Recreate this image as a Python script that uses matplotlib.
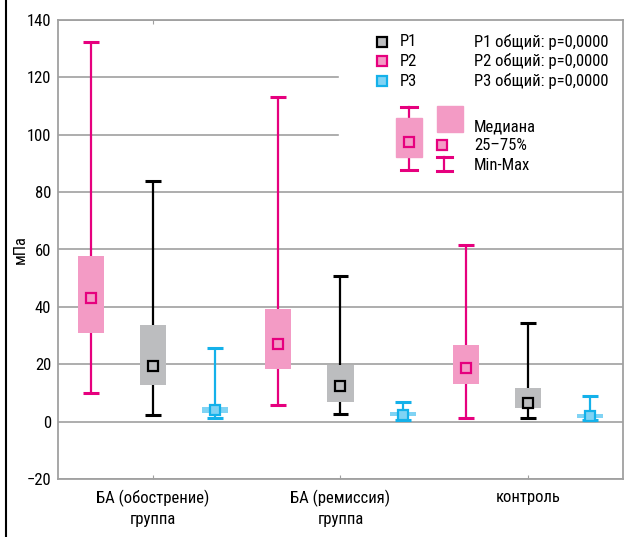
import matplotlib
matplotlib.use("Agg")
import matplotlib.pyplot as plt
from matplotlib.patches import Rectangle
from matplotlib.lines import Line2D

plt.rcParams['font.family'] = ['Roboto Condensed', 'DejaVu Sans']

groups = ["БА (обострение)\nгруппа", "БА (ремиссия)\nгруппа", "контроль"]
series = ["P2", "P1", "P3"]

# per series: values for the three groups
p2_min = [10.0, 5.9, 1.4]
p2_q1 = [31.0, 18.2, 13.0]
p2_med = [43.1, 27.0, 18.6]
p2_q3 = [57.7, 39.3, 26.8]
p2_max = [132.5, 113.0, 61.6]

p1_min = [2.4, 2.8, 1.3]
p1_q1 = [12.6, 7.0, 4.6]
p1_med = [19.5, 12.5, 6.5]
p1_q3 = [33.7, 19.8, 11.8]
p1_max = [83.8, 50.8, 34.5]

p3_min = [1.3, 0.7, 0.7]
p3_q1 = [2.9, 1.8, 1.1]
p3_med = [4.2, 2.4, 2.1]
p3_q3 = [5.2, 3.5, 2.8]
p3_max = [25.5, 7.0, 9.0]

stats = {
    "P2": (p2_min, p2_q1, p2_med, p2_q3, p2_max),
    "P1": (p1_min, p1_q1, p1_med, p1_q3, p1_max),
    "P3": (p3_min, p3_q1, p3_med, p3_q3, p3_max),
}
# box color, line color, marker face
styles = {
    "P2": ("#f39bc5", "#e6007e", "#f39bc5"),
    "P1": ("#bcbdbf", "#000000", "#bcbdbf"),
    "P3": ("#80d3f4", "#14b1ea", "#80d3f4"),
}
offsets = {"P2": -0.333, "P1": 0.0, "P3": 0.333}

W, H = 632, 537
fig = plt.figure(figsize=(W / 100, H / 100), dpi=100)
L, R, T, B = 58, 623, 20, 479
ax = fig.add_axes([L / W, 1 - B / H, (R - L) / W, (B - T) / H])

bw = 0.139
cw = 0.085
for s in series:
    mn, q1, md, q3, mx = stats[s]
    box_c, line_c, face_c = styles[s]
    xs = [i + offsets[s] for i in range(len(groups))]
    ax.vlines(xs, mn, mx, color=line_c, lw=1.6, zorder=2)
    ax.hlines(mn, [x - cw / 2 for x in xs], [x + cw / 2 for x in xs], color=line_c, lw=2.2, zorder=2)
    ax.hlines(mx, [x - cw / 2 for x in xs], [x + cw / 2 for x in xs], color=line_c, lw=2.2, zorder=2)
    ax.bar(xs, [b - a for a, b in zip(q1, q3)], bottom=q1, width=bw, color=box_c, zorder=3)
    ax.plot(xs, md, ls="none", marker="s", ms=7.5, mfc=face_c, mec=line_c, mew=1.6, zorder=4)

ax.set_xlim(-0.507, 2.507)
ax.set_ylim(-20, 140)
ax.set_yticks(range(-20, 141, 20))
ax.set_xticks(range(len(groups)))
ax.set_xticklabels(groups, fontsize=12, linespacing=1.4)
ax.tick_params(axis="y", length=0, labelsize=12, pad=5)
ax.tick_params(axis="x", direction="in", length=3, color="#a0a0a0", top=True, pad=8)
ax.set_ylabel("мПа", fontsize=12)
ax.yaxis.set_label_coords(-0.053, 0.5)
ax.grid(axis="y", color="#a0a0a0", lw=1.2)
ax.set_axisbelow(True)
for sp in ax.spines.values():
    sp.set_color("#a0a0a0")
    sp.set_linewidth(1.3)


def ap(px, py):
    return ((px - L) / (R - L), (B - py) / (B - T))


tr = ax.transAxes
x0, y0 = ap(339, 185)
ax.add_patch(Rectangle((x0, y0), 1 - x0, 1 - y0, transform=tr, color="white", zorder=1.5))

# legend: series markers
for s, py in zip(["P1", "P2", "P3"], [42, 61, 81]):
    box_c, line_c, face_c = styles[s]
    ax.plot(*ap(382, py), transform=tr, marker="s", ms=7, mfc=face_c, mec=line_c, mew=1.6, zorder=5)
    ax.text(*ap(400, py), s, transform=tr, va="center", fontsize=12, zorder=5)
    ax.text(*ap(474, py), s + " общий: p=0,0000", transform=tr, va="center", fontsize=12, zorder=5)

# legend: sample box
pink_box, pink_line, _ = styles["P2"]
bx0, by0 = ap(396, 157)
bx1, by1 = ap(422, 118)
ax.add_patch(Rectangle((bx0, by0), bx1 - bx0, by1 - by0, transform=tr, color=pink_box, zorder=5))
ax.add_line(Line2D([ap(409, 107)[0]] * 2, [ap(0, 107)[1], ap(0, 170)[1]], transform=tr, color=pink_line, lw=1.6, zorder=4.5))
for py in [107, 170]:
    ax.add_line(Line2D([ap(401, 0)[0], ap(417, 0)[0]], [ap(0, py)[1]] * 2, transform=tr, color=pink_line, lw=2.2, zorder=5))
ax.plot(*ap(409, 142), transform=tr, marker="s", ms=7, mfc=pink_box, mec=pink_line, mew=1.6, zorder=6)

sx0, sy0 = ap(437, 132)
sx1, sy1 = ap(463, 106)
ax.add_patch(Rectangle((sx0, sy0), sx1 - sx0, sy1 - sy0, transform=tr, color=pink_box, zorder=5))
ax.plot(*ap(442, 145), transform=tr, marker="s", ms=7, mfc=pink_box, mec=pink_line, mew=1.6, zorder=6)
ax.add_line(Line2D([ap(444, 0)[0]] * 2, [ap(0, 157)[1], ap(0, 171)[1]], transform=tr, color=pink_line, lw=1.6, zorder=5))
for py in [157, 171]:
    ax.add_line(Line2D([ap(437, 0)[0], ap(452, 0)[0]], [ap(0, py)[1]] * 2, transform=tr, color=pink_line, lw=2.2, zorder=5))

ax.text(*ap(474, 127), "Медиана", transform=tr, va="center", fontsize=12, zorder=6)
ax.text(*ap(474, 146), "25–75%", transform=tr, va="center", fontsize=12, zorder=6)
ax.text(*ap(474, 165), "Min-Max", transform=tr, va="center", fontsize=12, zorder=6)

# outer left border
fig.add_artist(Line2D([6 / W] * 2, [0, 1], transform=fig.transFigure, color="black", lw=1.5))

fig.savefig("out.png", dpi=100)
